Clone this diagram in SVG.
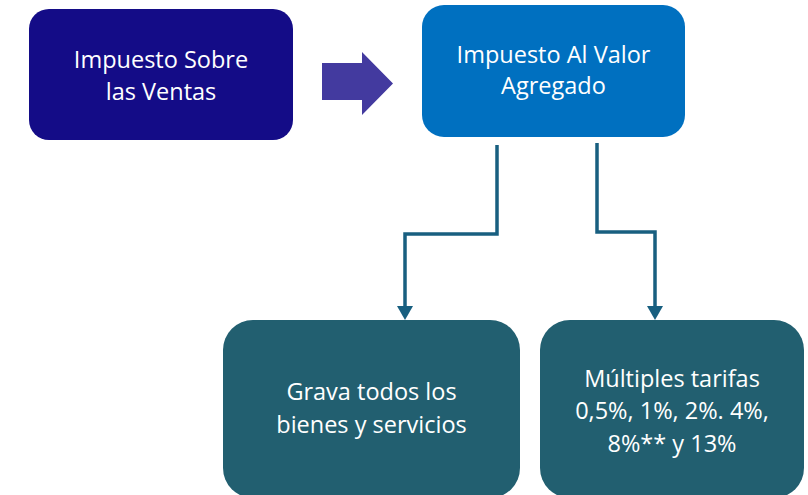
<svg xmlns="http://www.w3.org/2000/svg" width="808" height="495" viewBox="0 0 808 495">
<defs>
<style>
.t{font-family:"Open Sans","Liberation Sans",sans-serif;font-size:23.5px;fill:#ffffff;text-anchor:middle}
.c{fill:none;stroke:#185f80;stroke-width:3.5}
</style>
</defs>
<rect width="808" height="495" fill="#ffffff"/>
<g id="connectors">
<path d="M322,63 H362 V52 L393,83.5 L362,115 V100 H322 Z" fill="#433a9f"/>
<polyline class="c" points="497,145 497,234 405,234 405,306"/>
<path d="M397,306 L413,306 L405,320 Z" fill="#185f80"/>
<polyline class="c" points="597,143 597,232 655,232 655,306"/>
<path d="M647,306 L663,306 L655,320 Z" fill="#185f80"/>
</g>
<g id="n1">
<rect x="29" y="9" width="264" height="131" rx="20" fill="#140c87"/>
<text class="t" x="161" y="68">Impuesto Sobre</text>
<text class="t" x="161" y="100">las Ventas</text>
</g>
<g id="n2">
<rect x="422" y="5" width="263" height="132" rx="22" fill="#0070c0"/>
<text class="t" x="553.5" y="63">Impuesto Al Valor</text>
<text class="t" x="553.5" y="94">Agregado</text>
</g>
<g id="n3">
<rect x="223" y="320" width="297" height="178" rx="30" fill="#225f70"/>
<text class="t" x="371.5" y="400">Grava todos los</text>
<text class="t" x="371.5" y="433">bienes y servicios</text>
</g>
<g id="n4">
<rect x="540" y="320" width="264" height="178" rx="30" fill="#225f70"/>
<text class="t" x="672" y="387">Múltiples tarifas</text>
<text class="t" x="672" y="419">0,5%, 1%, 2%. 4%,</text>
<text class="t" x="672" y="452">8%** y 13%</text>
</g>
</svg>
